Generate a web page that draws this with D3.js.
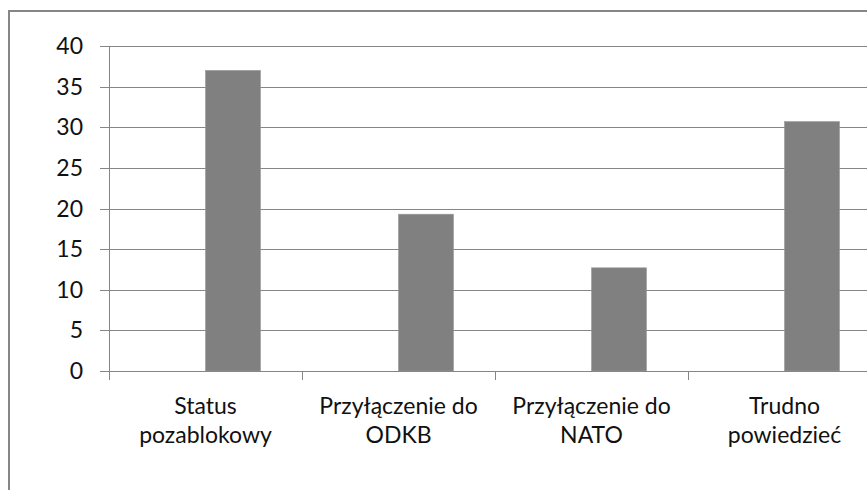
<!DOCTYPE html>
<html>
<head>
<meta charset="utf-8">
<script src="https://cdn.jsdelivr.net/npm/d3@7"></script>
<style>
  body { margin: 0; background: #fff; }
  svg text { font-family: Lato, "Open Sans", sans-serif; fill: #111; }
</style>
</head>
<body>
<div id="chart"></div>
<script>
const categories = [["Status", "pozablokowy"], ["Przyłączenie do", "ODKB"], ["Przyłączenie do", "NATO"], ["Trudno", "powiedzieć"]];
const values = [37, 19.3, 12.7, 30.7];
const yTicks = [0, 5, 10, 15, 20, 25, 30, 35, 40];

const width = 867, height = 490;
const plot = {left: 109, right: 881, top: 46, bottom: 371};

const svg = d3.select("#chart").append("svg")
    .attr("width", width)
    .attr("height", height);

// outer chart border
svg.append("rect")
    .attr("x", 9).attr("y", 11)
    .attr("width", 900).attr("height", 500)
    .attr("fill", "none")
    .attr("stroke", "#868686")
    .attr("stroke-width", 2);

const x = d3.scaleBand()
    .domain(d3.range(categories.length))
    .range([plot.left, plot.right]);

// two series per category, the first one is empty
const xInner = d3.scaleBand()
    .domain([0, 1])
    .range([0, x.bandwidth()])
    .paddingOuter(0.754);

const y = d3.scaleLinear()
    .domain([0, 40])
    .range([plot.bottom, plot.top]);

// gridlines
svg.append("g")
    .selectAll("line")
    .data(yTicks)
    .join("line")
    .attr("x1", plot.left - 9)
    .attr("x2", plot.right)
    .attr("y1", d => Math.round(y(d)) + 0.5)
    .attr("y2", d => Math.round(y(d)) + 0.5)
    .attr("stroke", "#868686")
    .attr("stroke-width", 1);

// y labels
svg.append("g")
    .selectAll("text")
    .data(yTicks)
    .join("text")
    .attr("x", 83)
    .attr("y", d => y(d))
    .attr("dy", "0.35em")
    .attr("text-anchor", "end")
    .attr("font-size", 23)
    .text(d => d);

// bars
svg.append("g")
    .selectAll("rect")
    .data(values)
    .join("rect")
    .attr("x", (d, i) => x(i) + xInner(1))
    .attr("y", d => y(d))
    .attr("width", xInner.bandwidth())
    .attr("height", d => y(0) - y(d))
    .attr("fill", "#808080")
    .attr("stroke", "#9a9a9a")
    .attr("stroke-width", 0.6);

// y axis line
svg.append("line")
    .attr("x1", plot.left + 0.5).attr("x2", plot.left + 0.5)
    .attr("y1", plot.top).attr("y2", plot.bottom + 9)
    .attr("stroke", "#868686");

// x axis line and category ticks
svg.append("line")
    .attr("x1", plot.left).attr("x2", plot.right)
    .attr("y1", Math.round(y(0)) + 0.5).attr("y2", Math.round(y(0)) + 0.5)
    .attr("stroke", "#868686");

svg.append("g")
    .selectAll("line")
    .data(d3.range(1, categories.length + 1))
    .join("line")
    .attr("x1", d => Math.round(plot.left + d * x.bandwidth()) + 0.5)
    .attr("x2", d => Math.round(plot.left + d * x.bandwidth()) + 0.5)
    .attr("y1", plot.bottom)
    .attr("y2", plot.bottom + 9)
    .attr("stroke", "#868686");

// category labels
const labels = svg.append("g")
    .selectAll("text")
    .data(categories)
    .join("text")
    .attr("text-anchor", "middle")
    .attr("font-size", 23)
    .attr("transform", (d, i) => `translate(${x(i) + x.bandwidth() / 2},0)`);

labels.selectAll("tspan")
    .data(d => d)
    .join("tspan")
    .attr("x", 0)
    .attr("y", (d, j) => 414 + j * 29)
    .text(d => d);
</script>
</body>
</html>
